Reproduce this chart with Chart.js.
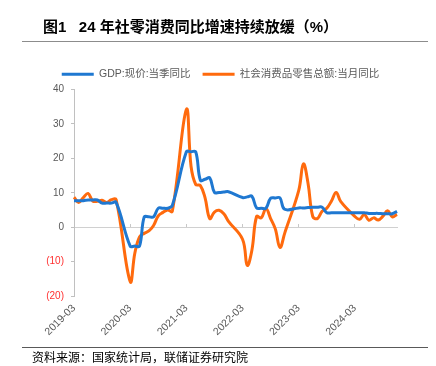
<!DOCTYPE html>
<html>
<head>
<meta charset="utf-8">
<script src="https://cdn.jsdelivr.net/npm/chart.js@4.4.1/dist/chart.umd.min.js"></script>
<style>
  html, body { margin: 0; padding: 0; background: #fff; }
  #wrap { position: relative; width: 436px; height: 366px; overflow: hidden; font-family: "Liberation Sans", "Noto Sans CJK SC", sans-serif; }
  #wrap canvas { position: absolute; left: 0; top: 0; }
  .title { position: absolute; left: 43px; top: 18px; font-size: 15px; line-height: 18px; font-weight: bold; color: #000; white-space: pre; }
  .rule { position: absolute; left: 22px; width: 406px; height: 1px; }
  .source { position: absolute; left: 32px; top: 350px; font-size: 12px; line-height: 16px; color: #000; white-space: pre; }
</style>
</head>
<body>
<div id="wrap">
  <canvas id="myChart" width="436" height="366"></canvas>
  <div class="title">图1   24 年社零消费同比增速持续放缓（%）</div>
  <div class="rule" style="top:41px;background:#8c8c8c"></div>
  <div class="rule" style="top:347px;background:#595959"></div>
  <div class="source">资料来源：国家统计局，联储证券研究院</div>
</div>
<script>
// 月份 (2019-03 ~ 2024-12)
const months = [
    '2019-03', '2019-04', '2019-05', '2019-06', '2019-07', '2019-08', '2019-09', '2019-10', '2019-11', '2019-12',
    '2020-01', '2020-02', '2020-03', '2020-04', '2020-05', '2020-06', '2020-07', '2020-08', '2020-09', '2020-10', '2020-11', '2020-12',
    '2021-01', '2021-02', '2021-03', '2021-04', '2021-05', '2021-06', '2021-07', '2021-08', '2021-09', '2021-10', '2021-11', '2021-12',
    '2022-01', '2022-02', '2022-03', '2022-04', '2022-05', '2022-06', '2022-07', '2022-08', '2022-09', '2022-10', '2022-11', '2022-12',
    '2023-01', '2023-02', '2023-03', '2023-04', '2023-05', '2023-06', '2023-07', '2023-08', '2023-09', '2023-10', '2023-11', '2023-12',
    '2024-01', '2024-02', '2024-03', '2024-04', '2024-05', '2024-06', '2024-07', '2024-08', '2024-09', '2024-10', '2024-11', '2024-12'
];
const tickLabels = ['2019-03', '2020-03', '2021-03', '2022-03', '2023-03', '2024-03'];

// GDP:现价:当季同比
const gdpYoY = [
    7.7, 7.7, 7.7, 7.9, 7.9, 7.9, 7.0, 7.0, 7.0, 7.2,
    null, null, -5.5, -5.5, -5.5, 3.0, 3.0, 3.0, 5.5, 5.5, 5.5, 6.3,
    null, null, 21.9, 21.9, 21.9, 13.6, 13.9, 14.3, 10.1, 10.1, 10.2, 10.3,
    null, null, 8.6, 8.8, 9.0, 5.6, 5.5, 5.5, 8.4, 8.5, 8.5, 5.2,
    null, null, 5.6, 5.6, 5.7, 5.8, 5.8, 5.8, 4.2, 4.2, 4.2, 4.2,
    null, null, 4.2, 4.2, 4.2, 4.0, 4.0, 4.0, 3.9, 3.9, 3.9, 4.6
];
// 社会消费品零售总额:当月同比
const retailYoY = [
    8.7, 7.2, 8.6, 9.8, 7.6, 7.5, 7.8, 7.2, 8.0, 8.0,
    null, null, -15.8, -7.5, -2.8, -1.8, -1.1, 0.5, 3.3, 4.3, 5.0, 4.6,
    null, null, 34.2, 17.7, 12.4, 12.1, 8.5, 2.5, 4.4, 4.9, 3.9, 1.7,
    null, null, -3.5, -11.1, -6.7, 3.1, 2.7, 5.4, 2.5, -0.5, -5.9, -1.8,
    null, null, 10.6, 18.4, 12.7, 3.1, 2.5, 4.6, 5.5, 7.6, 10.1, 7.4,
    null, null, 3.1, 2.3, 3.7, 2.0, 2.7, 2.1, 3.2, 4.8, 3.0, 3.7
];

const fontFamily = '"Liberation Sans", "Noto Sans CJK SC", sans-serif';

const data = {
    labels: months,
    datasets: [{
        label: 'GDP:现价:当季同比',
        data: gdpYoY,
        borderColor: '#1f78d1',
        backgroundColor: '#1f78d1',
        borderWidth: 3,
        pointRadius: 0,
        tension: 0.4,
        spanGaps: true
    }, {
        label: '社会消费品零售总额:当月同比',
        data: retailYoY,
        borderColor: '#ff6a0d',
        backgroundColor: '#ff6a0d',
        borderWidth: 3,
        pointRadius: 0,
        tension: 0.4,
        spanGaps: true
    }]
};

const config = {
    type: 'line',
    data,
    options: {
        responsive: false,
        animation: false,
        layout: { padding: { left: 44, right: 39, top: 57, bottom: 25 } },
        plugins: {
            legend: {
                position: 'top',
                labels: {
                    usePointStyle: true,
                    pointStyle: 'line',
                    pointStyleWidth: 32,
                    padding: 12,
                    color: '#595959',
                    font: { family: fontFamily, size: 10.5 }
                }
            },
            tooltip: { enabled: false }
        },
        scales: {
            x: {
                type: 'category',
                position: 'bottom',
                offset: false,
                grid: { display: false, drawTicks: false },
                border: { display: false },
                ticks: {
                    autoSkip: false,
                    minRotation: 45,
                    maxRotation: 45,
                    padding: 6,
                    color: '#595959',
                    font: { family: fontFamily, size: 10.5 },
                    callback: function (v, i) {
                        const lab = months[i];
                        return tickLabels.indexOf(lab) >= 0 ? lab : '';
                    }
                },
                afterFit: function (scale) { scale.height = 45; }
            },
            // 零轴
            x2: {
                type: 'category',
                labels: months,
                position: { y: 0 },
                offset: false,
                grid: {
                    drawOnChartArea: false,
                    tickLength: -4,
                    tickColor: function (c) { return c.index % 12 === 0 ? '#c8c8c8' : 'rgba(0,0,0,0)'; }
                },
                border: { display: true, color: '#d0d0d0', width: 1 },
                ticks: { display: false }
            },
            y: {
                min: -20,
                max: 40,
                grid: { drawOnChartArea: false, tickLength: 3, color: '#c0c0c0' },
                border: { display: true, color: '#c0c0c0', width: 1 },
                ticks: {
                    stepSize: 10,
                    padding: 7,
                    font: { family: fontFamily, size: 10 },
                    color: function (c) { return c.tick.value < 0 ? '#ff3030' : '#595959'; },
                    callback: function (v) { return v < 0 ? '(' + (-v) + ')' : v; }
                },
                afterFit: function (scale) { scale.width = 30; }
            }
        }
    }
};

let myChart = new Chart(document.getElementById('myChart'), config);
</script>
</body>
</html>
